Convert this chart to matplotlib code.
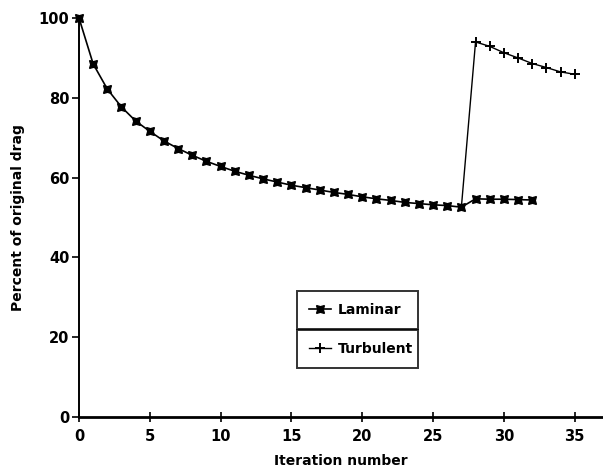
import matplotlib
matplotlib.use('Agg')
import matplotlib.pyplot as plt

# laminar run: iterations 0-27, then after the switch 28-32
lam_iter = list(range(0, 28))
lam_drag = [100.0, 88.5, 82.2, 77.7, 74.2, 71.6, 69.2, 67.3, 65.6, 64.1,
            62.8, 61.6, 60.6, 59.7, 58.9, 58.1, 57.5, 56.9, 56.3, 55.8,
            55.2, 54.7, 54.3, 53.8, 53.5, 53.2, 53.0, 52.6]
lam2_iter = [27, 28, 29, 30, 31, 32]
lam2_drag = [52.6, 54.7, 54.6, 54.6, 54.5, 54.4]

# turbulent run starts from the last laminar point
turb_iter = [27, 28, 29, 30, 31, 32, 33, 34, 35]
turb_drag = [52.6, 94.0, 92.9, 91.3, 90.0, 88.6, 87.6, 86.5, 85.9]

xticks = [0, 5, 10, 15, 20, 25, 30, 35]
yticks = [0, 20, 40, 60, 80, 100]

plt.rcParams['font.family'] = ['DejaVu Sans']
plt.rcParams['font.weight'] = 'bold'
plt.rcParams['axes.labelweight'] = 'bold'

fig = plt.figure(figsize=(6.03, 4.74), dpi=100)
ax = fig.add_axes([0.131, 0.12, 0.869, 0.842])

lam_marker = (4, 1, 45)
ax.plot(lam_iter, lam_drag, color='black', lw=1.2, marker=lam_marker,
        ms=8, mew=1.0, clip_on=False, zorder=3)
ax.plot(lam2_iter, lam2_drag, color='black', lw=1.2, marker=lam_marker,
        ms=8, mew=1.0, markevery=list(range(1, 6)), clip_on=False, zorder=3)
ax.plot(turb_iter, turb_drag, color='black', lw=1.0, marker='+',
        ms=7, mew=1.4, markevery=list(range(1, 9)), clip_on=False, zorder=2)

ax.set_xlim(0, 37)
ax.set_ylim(0, 100)
ax.set_xticks(xticks)
ax.set_yticks(yticks)
ax.tick_params(axis='x', direction='inout', length=7, width=1.2, labelsize=10.5, pad=5)
ax.tick_params(axis='y', direction='out', length=5, width=1.2, labelsize=10.5, pad=2)
ax.spines['top'].set_visible(False)
ax.spines['right'].set_visible(False)
ax.spines['left'].set_linewidth(1.4)
ax.spines['bottom'].set_linewidth(2.0)

ax.set_xlabel('Iteration number', fontsize=10, labelpad=7)
ax.set_ylabel('Percent of original drag', fontsize=10, labelpad=10)

# legend: two stacked boxes, one entry each
h_lam, = ax.plot([], [], color='black', lw=1.2, marker=lam_marker, ms=8)
h_turb, = ax.plot([], [], color='black', lw=1.0, marker='+', ms=7, mew=1.4)
leg1 = ax.legend([h_lam], ['Laminar'], loc='center', mode='expand',
                 bbox_to_anchor=(0.416, 0.268, 0.231, 0.0),
                 frameon=True, fancybox=False, edgecolor='black',
                 handlelength=1.6, handletextpad=0.5, fontsize=10,
                 borderaxespad=0, borderpad=0.85, numpoints=1)
leg1.get_frame().set_linewidth(1.4)
ax.add_artist(leg1)
leg2 = ax.legend([h_turb], ['Turbulent'], loc='center', mode='expand',
                 bbox_to_anchor=(0.416, 0.171, 0.231, 0.0),
                 frameon=True, fancybox=False, edgecolor='black',
                 handlelength=1.6, handletextpad=0.5, fontsize=10,
                 borderaxespad=0, borderpad=0.85, numpoints=1)
leg2.get_frame().set_linewidth(1.4)

fig.savefig('out.png', dpi=100)
